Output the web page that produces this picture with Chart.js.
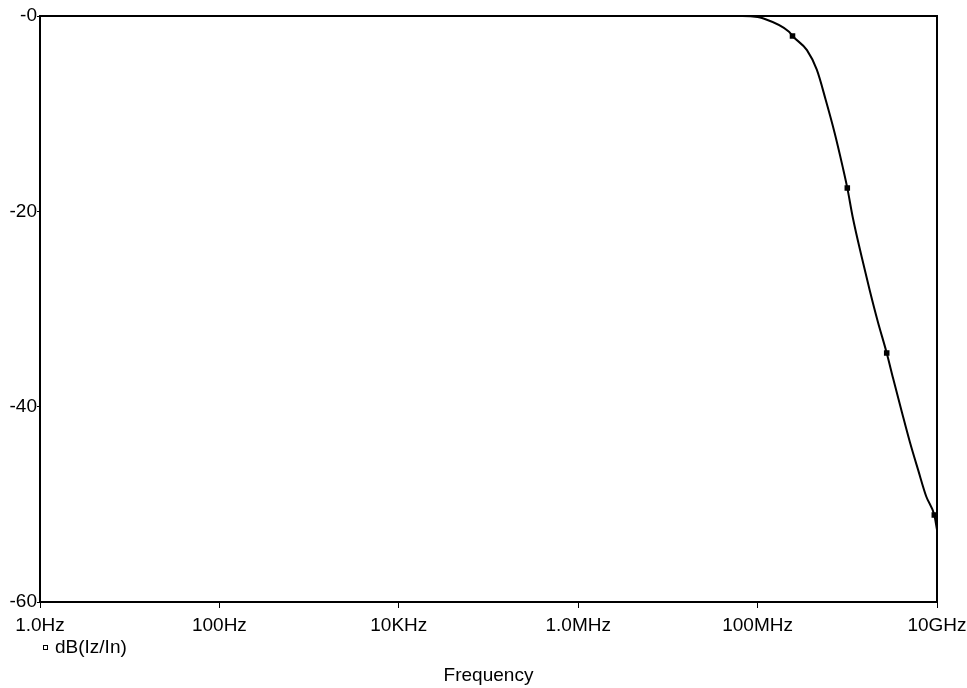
<!DOCTYPE html>
<html>
<head>
<meta charset="utf-8">
<script src="https://cdn.jsdelivr.net/npm/chart.js@4/dist/chart.umd.min.js"></script>
<style>
  html, body { margin: 0; padding: 0; background: #fff; }
  #wrap { width: 967px; height: 688px; }
</style>
</head>
<body>
<div id="wrap"><canvas id="myChart"></canvas></div>
<script>
// frequency sweep (Hz) and response
const freqs = [1, 10, 100, 1e3, 1e4, 1e5, 1e6, 1e7, 6.8e7,
    1e8, 1.12e8, 2.24e8, 2.45e8, 3.55e8, 4.57e8, 5.75e8, 7.24e8, 8.91e8,
    1e9, 1.15e9, 1.45e9, 1.78e9, 2.19e9, 2.75e9, 3.24e9, 4.07e9, 5.01e9,
    6.17e9, 7.59e9, 9.33e9, 1e10];
const gainDb = [0, 0, 0, 0, 0, 0, 0, 0, 0,
    -0.1, -0.2, -1.6, -2.05, -3.5, -5.5, -8.6, -12.0, -15.5,
    -17.6, -20.6, -24.7, -28.1, -31.3, -34.5, -37.1, -40.6, -43.7,
    -46.5, -49.2, -51.1, -52.6];
const markerFreqs = [2.45e8, 1e9, 2.75e9, 9.33e9];

const xTicks = [1, 100, 1e4, 1e6, 1e8, 1e10];
const xTickLabels = ['1.0Hz', '100Hz', '10KHz', '1.0MHz', '100MHz', '10GHz'];
const yTicks = [-60, -40, -20, 0];
const yTickLabels = ['-60', '-40', '-20', '-0'];

const seriesName = 'dB(Iz/In)';
const font = { family: "'Liberation Sans', Arial, sans-serif", size: 19 };

// box around plot + legend entry under the axis
const framePlugin = {
    id: 'frame',
    afterDraw(chart) {
        const ctx = chart.ctx;
        const a = chart.chartArea;
        ctx.save();
        ctx.strokeStyle = '#000';
        ctx.lineWidth = 2;
        ctx.beginPath();
        ctx.moveTo(a.left, a.top);
        ctx.lineTo(a.right, a.top);
        ctx.lineTo(a.right, a.bottom);
        ctx.stroke();

        ctx.lineWidth = 1;
        ctx.strokeRect(43.5, 645.5, 4, 4);
        ctx.fillStyle = '#000';
        ctx.font = font.size + 'px ' + font.family;
        ctx.textBaseline = 'middle';
        ctx.textAlign = 'left';
        ctx.fillText(seriesName, 55, 648);
        ctx.restore();
    }
};

const data = {
    datasets: [{
        label: seriesName,
        data: freqs.map((f, i) => ({ x: f, y: gainDb[i] })),
        borderColor: '#000',
        backgroundColor: '#000',
        borderWidth: 2,
        cubicInterpolationMode: 'monotone',
        pointStyle: 'rect',
        pointRadius: c => markerFreqs.includes(freqs[c.dataIndex]) ? 2.5 : 0,
        pointHoverRadius: 0
    }]
};

const config = {
    type: 'line',
    data: data,
    options: {
        responsive: true,
        maintainAspectRatio: false,
        animation: false,
        layout: {
            padding: { left: 0, right: 30, top: 16, bottom: 0 }
        },
        plugins: {
            legend: { display: false },
            tooltip: { enabled: false }
        },
        scales: {
            x: {
                type: 'logarithmic',
                min: 1,
                max: 1e10,
                afterBuildTicks: scale => {
                    scale.ticks = xTicks.map(v => ({ value: v }));
                },
                afterFit: scale => {
                    scale.height = 86;
                    scale.paddingLeft = 0;
                    scale.paddingRight = 0;
                },
                border: { color: '#000', width: 2 },
                grid: {
                    drawOnChartArea: false,
                    color: '#000',
                    lineWidth: 1,
                    tickLength: 6
                },
                ticks: {
                    autoSkip: false,
                    maxRotation: 0,
                    color: '#000',
                    font: font,
                    padding: 6,
                    callback: (v, i) => xTickLabels[i]
                },
                title: {
                    display: true,
                    text: 'Frequency',
                    color: '#000',
                    font: font,
                    padding: { top: 0, bottom: 1 }
                }
            },
            y: {
                min: -60,
                max: 0,
                afterBuildTicks: scale => {
                    scale.ticks = yTicks.map(v => ({ value: v }));
                },
                afterFit: scale => {
                    scale.width = 40;
                    scale.paddingTop = 0;
                    scale.paddingBottom = 0;
                },
                border: { color: '#000', width: 2 },
                grid: {
                    drawOnChartArea: false,
                    color: '#000',
                    tickLength: 3
                },
                ticks: {
                    color: '#000',
                    font: font,
                    padding: 0,
                    callback: (v, i) => yTickLabels[i]
                }
            }
        }
    },
    plugins: [framePlugin]
};

var myChart = new Chart(document.getElementById('myChart'), config);
</script>
</body>
</html>
